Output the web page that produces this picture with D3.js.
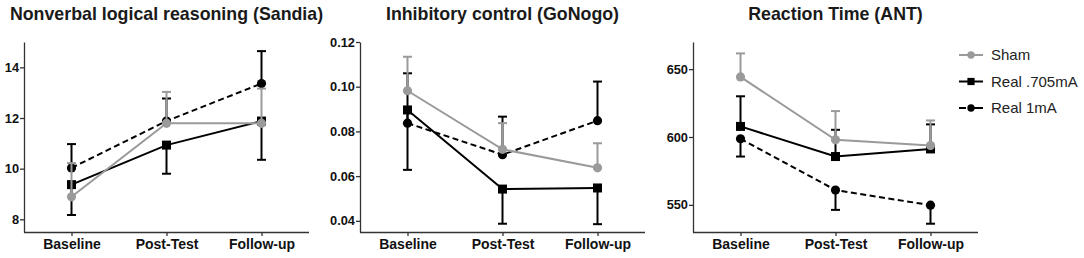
<!DOCTYPE html>
<html>
<head>
<meta charset="utf-8">
<script src="https://cdn.jsdelivr.net/npm/d3@7"></script>
<style>
  body { margin: 0; background: #fff; }
  svg { font-family: "Liberation Sans", Arial, Helvetica, sans-serif; }
  .axis path, .axis line { stroke: #333; stroke-width: 1.3; }
  .axis text { fill: #111; font-weight: bold; }
</style>
</head>
<body>
<div id="chart"></div>
<script>
// data
const phases = ["Baseline", "Post-Test", "Follow-up"];
const groups = ["Sham", "Real .705mA", "Real 1mA"];

const titles = ["Nonverbal logical reasoning (Sandia)", "Inhibitory control (GoNogo)", "Reaction Time (ANT)"];
const yDomains = [[7.5, 15], [0.035, 0.12], [530, 670]];
const yTicks = [[8, 10, 12, 14], [0.04, 0.06, 0.08, 0.10, 0.12], [550, 600, 650]];
const yFormats = ["d", ".2f", "d"];

// means per group (Sham, Real .705mA, Real 1mA)
const sandiaMeans = [[8.89, 11.79, 11.79], [9.37, 10.93, 11.88], [10.03, 11.88, 13.36]];
const sandiaErr = [[1.33, 1.24, 1.37], [1.2, 1.13, 1.53], [0.94, 0.89, 1.28]];
const gonogoMeans = [[0.0982, 0.0720, 0.0637], [0.0896, 0.0542, 0.0547], [0.0837, 0.0696, 0.0848]];
const gonogoErr = [[0.0152, 0.0117, 0.0110], [0.0268, 0.0155, 0.0162], [0.0223, 0.0170, 0.0175]];
const antMeans = [[644.3, 597.9, 593.7], [607.8, 585.6, 591.2], [598.7, 560.9, 549.8]];
const antErr = [[17.3, 21.2, 18.5], [22.2, 19.7, 18.1], [13.1, 14.6, 13.7]];
// error bar direction: +1 up, -1 down
const errDirs = [[1, -1, 1], [1, -1, 1], [1, 1, -1]];

const panels = [
  {means: sandiaMeans, errs: sandiaErr},
  {means: gonogoMeans, errs: gonogoErr},
  {means: antMeans, errs: antErr}
];

/** CONSTANTS */
const width = 1084, height = 258;
const plotLefts = [24, 360, 693];
const plotW = 285;
const plotTop = 42, plotBottom = 232;
const colors = ["#9a9a9a", "#000", "#000"];
const dashes = [null, null, "6,3.5"];
const shapes = ["circle", "square", "circle"];
const drawOrder = [2, 1, 0];

const svg = d3.select("#chart").append("svg")
  .attr("width", width)
  .attr("height", height);

function marker(g, shape, x, y, color, size = 1) {
  if (shape === "square") {
    g.append("rect").attr("x", x - 4.5 * size).attr("y", y - 4.5 * size)
      .attr("width", 9 * size).attr("height", 9 * size).attr("fill", color);
  } else {
    g.append("circle").attr("cx", x).attr("cy", y).attr("r", 4.6 * size).attr("fill", color);
  }
}

panels.forEach((p, i) => {
  const left = plotLefts[i];
  const xScale = d3.scalePoint()
    .domain(phases)
    .range([left, left + plotW])
    .padding(0.5);
  const yScale = d3.scaleLinear()
    .domain(yDomains[i])
    .range([plotBottom, plotTop]);

  const g = svg.append("g");

  // title
  g.append("text")
    .attr("x", xScale("Post-Test"))
    .attr("y", 20)
    .attr("text-anchor", "middle")
    .attr("font-size", 17.8)
    .attr("font-weight", "bold")
    .attr("fill", "#1a1a1a")
    .text(titles[i]);

  // axes
  g.append("g")
    .attr("class", "axis")
    .attr("transform", `translate(0,${plotBottom})`)
    .call(d3.axisBottom(xScale).tickSize(4).tickSizeOuter(0).tickPadding(3))
    .call(a => a.selectAll("text").attr("font-size", 14))
    .call(a => a.select(".domain").attr("d", `M${left},0.5H${left + plotW}`));

  g.append("g")
    .attr("class", "axis")
    .attr("transform", `translate(${left},0)`)
    .call(d3.axisLeft(yScale).tickValues(yTicks[i]).tickFormat(d3.format(yFormats[i]))
      .tickSize(4).tickSizeOuter(0).tickPadding(1))
    .call(a => a.selectAll("text").attr("font-size", 12.8));

  const line = d3.line()
    .x((d, k) => xScale(phases[k]))
    .y(d => yScale(d));

  drawOrder.forEach(s => {
    const col = colors[s];
    const vals = p.means[s];
    const dir = errDirs[i][s];

    // error bars
    vals.forEach((v, k) => {
      const x = xScale(phases[k]);
      const yEnd = yScale(v + dir * p.errs[s][k]);
      g.append("line")
        .attr("x1", x).attr("x2", x)
        .attr("y1", yScale(v)).attr("y2", yEnd)
        .attr("stroke", col).attr("stroke-width", 2);
      g.append("line")
        .attr("x1", x - 4.5).attr("x2", x + 4.5)
        .attr("y1", yEnd).attr("y2", yEnd)
        .attr("stroke", col).attr("stroke-width", 2);
    });

    g.append("path")
      .datum(vals)
      .attr("d", line)
      .attr("fill", "none")
      .attr("stroke", col)
      .attr("stroke-width", 2)
      .attr("stroke-dasharray", dashes[s]);

    vals.forEach((v, k) => marker(g, shapes[s], xScale(phases[k]), yScale(v), col));
  });
});

// legend
const legendY = d3.scalePoint().domain(groups).range([55, 108]);
const legend = svg.append("g");
groups.forEach((name, s) => {
  const y = legendY(name);
  legend.append("line")
    .attr("x1", 959).attr("x2", 983)
    .attr("y1", y).attr("y2", y)
    .attr("stroke", colors[s]).attr("stroke-width", 2)
    .attr("stroke-dasharray", s === 2 ? "7,5,12" : null);
  if (s === 2) {
    legend.append("line")
      .attr("x1", 979).attr("x2", 982)
      .attr("y1", y).attr("y2", y)
      .attr("stroke", colors[s]).attr("stroke-width", 2);
  }
  marker(legend, shapes[s], 971, y, colors[s], 0.8);
  legend.append("text")
    .attr("x", 991)
    .attr("y", y)
    .attr("dy", "0.36em")
    .attr("font-size", 15)
    .attr("fill", "#222")
    .text(name);
});
</script>
</body>
</html>
